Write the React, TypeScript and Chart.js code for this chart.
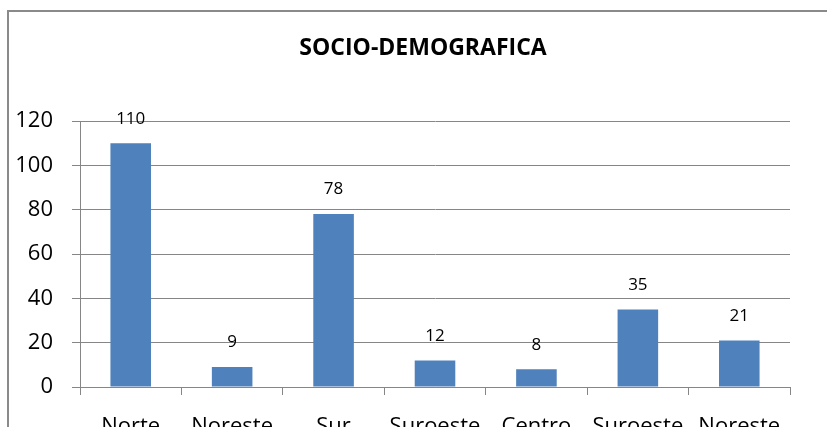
import React, { useEffect, useRef } from "react";
import { Chart, registerables } from "chart.js";

Chart.register(...registerables);

const titleText = "SOCIO-DEMOGRAFICA";
const categories = ["Norte", "Noreste", "Sur", "Suroeste", "Centro", "Suroeste", "Noreste"];
const values = [110, 9, 78, 12, 8, 35, 21];
const yTicks = [0, 20, 40, 60, 80, 100, 120];

const FONT = "'Open Sans', 'Noto Sans', sans-serif";
const GRID = "#868686";

const framePlugin = {
  id: "frame",
  beforeDraw(chart: any) {
    const ctx = chart.ctx;
    ctx.save();
    ctx.fillStyle = "#ffffff";
    ctx.fillRect(0, 0, chart.width, chart.height);
    ctx.strokeStyle = "#8a8a8a";
    ctx.lineWidth = 2;
    ctx.beginPath();
    ctx.moveTo(8, chart.height + 5);
    ctx.lineTo(8, 11);
    ctx.lineTo(chart.width + 5, 11);
    ctx.stroke();
    ctx.fillStyle = "#000";
    ctx.font = `bold 23px ${FONT}`;
    ctx.textAlign = "center";
    ctx.textBaseline = "middle";
    ctx.fillText(titleText, 423, 48);
    ctx.restore();
  },
};

const labelPlugin = {
  id: "barLabels",
  afterDatasetsDraw(chart: any) {
    const ctx = chart.ctx;
    const meta = chart.getDatasetMeta(0);
    ctx.save();
    ctx.fillStyle = "#000";
    ctx.font = `17px ${FONT}`;
    ctx.textAlign = "center";
    ctx.textBaseline = "middle";
    meta.data.forEach((el: any, i: number) => {
      ctx.fillText(String(values[i]), el.x, el.y - 24.5);
    });
    ctx.restore();
  },
};

export default function App() {
  const ref = useRef<HTMLCanvasElement>(null);
  useEffect(() => {
    if (!ref.current) return;
    const chart = new Chart(ref.current, {
      type: "bar",
      data: {
        labels: categories,
        datasets: [
          {
            data: values,
            backgroundColor: "#4F81BD",
            borderColor: "#4F81BD",
            borderWidth: 0,
            barPercentage: 0.4,
            categoryPercentage: 1,
          },
        ],
      },
      options: {
        responsive: false,
        animation: false,
        devicePixelRatio: 1,
        layout: { padding: { left: 0, right: 37, top: 121, bottom: 0 } },
        plugins: {
          legend: { display: false },
          title: { display: false },
          tooltip: { enabled: false },
        },
        scales: {
          x: {
            type: "category",
            offset: true,
            grid: {
              offset: true,
              drawOnChartArea: false,
              drawTicks: true,
              tickLength: 8,
              color: GRID,
            },
            border: { color: GRID, width: 1 },
            ticks: {
              color: "#000",
              font: { family: FONT, size: 22 },
              padding: 19,
              maxRotation: 0,
              autoSkip: false,
            },
            afterFit(scale: any) {
              scale.height = 40;
            },
          },
          y: {
            min: 0,
            max: 120,
            afterBuildTicks(scale: any) {
              scale.ticks = yTicks.map((v) => ({ value: v }));
            },
            grid: { color: GRID, tickLength: 8, lineWidth: 1 },
            border: { color: GRID, width: 1 },
            ticks: {
              color: "#000",
              font: { family: FONT, size: 22 },
              padding: 19,
            },
            afterFit(scale: any) {
              scale.width = 80;
            },
          },
        },
      },
      plugins: [framePlugin, labelPlugin],
    });
    return () => chart.destroy();
  }, []);
  return (
    <div style={{ position: "fixed", left: 0, top: 0, width: 827, height: 427 }}>
      <canvas ref={ref} width={827} height={427} style={{ display: "block" }} />
    </div>
  );
}
